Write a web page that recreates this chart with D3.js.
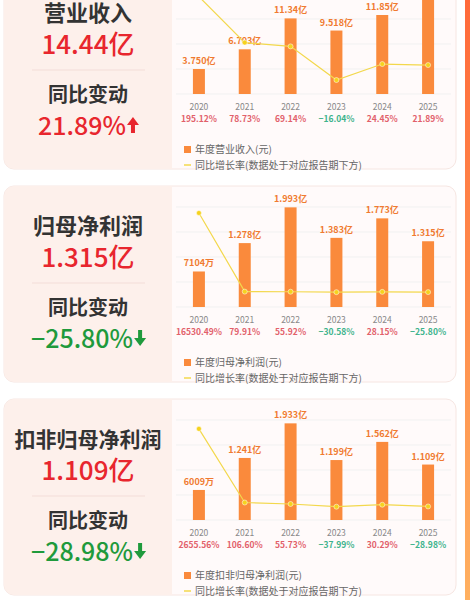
<!DOCTYPE html>
<html><head><meta charset="utf-8">
<script src="https://cdn.jsdelivr.net/npm/d3@7"></script>
<style>body{margin:0;background:#fff;font-family:"Noto Sans CJK SC",sans-serif}</style>
</head><body><div id="chart"></div>
<script>
// Chart data
const years = ['2020', '2021', '2022', '2023', '2024', '2025'];
const titles = ['营业收入', '归母净利润', '扣非归母净利润'];
const latestValues = ['14.44亿', '1.315亿', '1.109亿'];
const latestChanges = ['21.89%', '-25.80%', '-28.98%'];
const legendNames = ['年度营业收入(元)', '年度归母净利润(元)', '年度扣非归母净利润(元)'];
const revenue = [3.750, 6.703, 11.34, 9.518, 11.85, 14.44];
const revenueLabels = ['3.750亿', '6.703亿', '11.34亿', '9.518亿', '11.85亿', '14.44亿'];
const revenueRates = [195.12, 78.73, 69.14, -16.04, 24.45, 21.89];
const netProfit = [0.7104, 1.278, 1.993, 1.383, 1.773, 1.315];
const netProfitLabels = ['7104万', '1.278亿', '1.993亿', '1.383亿', '1.773亿', '1.315亿'];
const netProfitRates = [16530.49, 79.91, 55.92, -30.58, 28.15, -25.80];
const deductedProfit = [0.6009, 1.241, 1.933, 1.199, 1.562, 1.109];
const deductedProfitLabels = ['6009万', '1.241亿', '1.933亿', '1.199亿', '1.562亿', '1.109亿'];
const deductedProfitRates = [2655.56, 106.60, 55.73, -37.99, 30.29, -28.98];

const width = 470, height = 600;
const red = '#e8262e', green = '#1f9a3c', orange = '#fa8a3c';

const svg = d3.select('#chart').append('svg')
    .attr('width', width).attr('height', height);

// Orange strip on the right edge
const grad = svg.append('defs').append('linearGradient')
    .attr('id', 'strip').attr('x1', 0).attr('y1', 0).attr('x2', 0).attr('y2', 1);
grad.append('stop').attr('offset', 0).attr('stop-color', '#ff6a3a');
grad.append('stop').attr('offset', 1).attr('stop-color', '#ffb060');
svg.append('rect').attr('x', 465).attr('y', 0).attr('width', 5).attr('height', height)
    .attr('fill', 'url(#strip)');

const panels = [
    {top: -27, values: revenue, labels: revenueLabels, rates: revenueRates, vmax: 15, rateZero: 20.3, rateScale: 0.395},
    {top: 186, values: netProfit, labels: netProfitLabels, rates: netProfitRates, vmax: 2, rateZero: 15, rateScale: 0.00478},
    {top: 399, values: deductedProfit, labels: deductedProfitLabels, rates: deductedProfitRates, vmax: 2, rateZero: 14.4, rateScale: 0.0289}
];

panels.forEach((p, i) => drawPanel(p, i));

function drawPanel(p, i) {
    const g = svg.append('g').attr('transform', `translate(0,${p.top})`);
    const base = 121;   // baseline inside the card
    const cardH = 196;

    // Card
    g.append('rect').attr('x', 4).attr('y', 0).attr('width', 452).attr('height', cardH)
        .attr('rx', 10).attr('fill', '#fffafa').attr('stroke', '#f6e6e2');
    g.append('path')
        .attr('d', `M172,0 H14 A10,10 0 0 0 4,10 V${cardH - 10} A10,10 0 0 0 14,${cardH} H172 Z`)
        .attr('fill', '#fdf0eb');

    // Left texts
    const cx = 88;
    g.append('text').attr('x', cx).attr('y', 48).attr('text-anchor', 'middle')
        .attr('font-size', titles[i].length > 5 ? 21 : 22).attr('font-weight', 'bold').attr('fill', '#333')
        .text(titles[i]);
    g.append('text').attr('x', cx).attr('y', 81).attr('text-anchor', 'middle')
        .attr('font-size', 26).attr('font-weight', 500).attr('fill', red).text(latestValues[i]);
    g.append('line').attr('x1', 32).attr('x2', 145).attr('y1', 97).attr('y2', 97)
        .attr('stroke', '#f3ddd8');
    g.append('text').attr('x', cx).attr('y', 129).attr('text-anchor', 'middle')
        .attr('font-size', 20).attr('font-weight', 'bold').attr('fill', '#333').text('同比变动');
    const up = !latestChanges[i].startsWith('-');
    const chg = g.append('text').attr('x', cx - 6).attr('y', 162).attr('text-anchor', 'middle')
        .attr('font-size', 25).attr('font-weight', 500).attr('fill', up ? red : green)
        .text(latestChanges[i].replace('-', '−'));
    const bb = chg.node().getBBox();
    const ax = bb.x + bb.width + 7, ay = 153;
    g.append('path')
        .attr('d', up
            ? `M${ax},${ay - 9} L${ax + 6},${ay - 1} H${ax + 2} V${ay + 7} H${ax - 2} V${ay - 1} H${ax - 6} Z`
            : `M${ax},${ay + 7} L${ax + 6},${ay - 1} H${ax + 2} V${ay - 9} H${ax - 2} V${ay - 1} H${ax - 6} Z`)
        .attr('fill', up ? red : green);

    // Chart area
    const chart = g.append('g');
    chart.append('clipPath').attr('id', 'clip' + i).append('rect')
        .attr('x', 172).attr('y', 0).attr('width', 284).attr('height', cardH);
    const plot = chart.append('g').attr('clip-path', `url(#clip${i})`);

    const x = d3.scaleBand().domain(years).range([176, 451]);
    const y = d3.scaleLinear().domain([0, p.vmax]).range([base, base - 100]);
    const yr = d3.scaleLinear().domain([0, 1000]).range([base - p.rateZero, base - p.rateZero - 1000 * p.rateScale]);

    // Gridlines
    [0, 25, 50, 75, 100].forEach(d => {
        plot.append('line').attr('x1', 176).attr('x2', 451)
            .attr('y1', base - d).attr('y2', base - d)
            .attr('stroke', '#f1f1f1');
    });

    plot.selectAll('.bar').data(p.values).enter().append('rect')
        .attr('x', (d, k) => x(years[k]) + x.bandwidth() / 2 - 6)
        .attr('y', d => y(d)).attr('width', 12).attr('height', d => base - y(d))
        .attr('fill', orange);
    plot.selectAll('.blab').data(p.values).enter().append('text')
        .attr('x', (d, k) => x(years[k]) + x.bandwidth() / 2).attr('y', d => y(d) - 5)
        .attr('text-anchor', 'middle').attr('font-size', 9).attr('font-weight', 'bold')
        .attr('fill', '#f07a30').text((d, k) => p.labels[k]);

    const line = d3.line().x((d, k) => x(years[k]) + x.bandwidth() / 2).y(d => yr(d));
    plot.append('path').datum(p.rates).attr('d', line)
        .attr('fill', 'none').attr('stroke', '#f3d84c').attr('stroke-width', 1.2);
    plot.selectAll('.dot').data(p.rates).enter().append('circle')
        .attr('cx', (d, k) => x(years[k]) + x.bandwidth() / 2).attr('cy', d => yr(d))
        .attr('r', 2.5).attr('fill', '#f6d21e').attr('stroke', '#fff').attr('stroke-width', 0.5);

    // Axis labels
    years.forEach((yv, k) => {
        const cxk = x(yv) + x.bandwidth() / 2;
        chart.append('text').attr('x', cxk).attr('y', base + 16).attr('text-anchor', 'middle')
            .attr('font-size', 8.5).attr('fill', '#888').text(yv);
        const r = p.rates[k];
        chart.append('text').attr('x', cxk).attr('y', base + 28).attr('text-anchor', 'middle')
            .attr('font-size', 8.5).attr('font-weight', 'bold')
            .attr('fill', r >= 0 ? '#e2606a' : '#3db38c')
            .text((r >= 0 ? '' : '−') + Math.abs(r).toFixed(2) + '%');
    });

    // Legend
    chart.append('rect').attr('x', 184).attr('y', base + 52).attr('width', 7).attr('height', 7)
        .attr('fill', orange);
    chart.append('text').attr('x', 195).attr('y', base + 59).attr('font-size', 10).attr('fill', '#666')
        .text(legendNames[i]);
    chart.append('line').attr('x1', 184).attr('x2', 191).attr('y1', base + 71).attr('y2', base + 71)
        .attr('stroke', '#f3d84c').attr('stroke-width', 1.5);
    chart.append('text').attr('x', 195).attr('y', base + 75).attr('font-size', 10).attr('fill', '#666')
        .text('同比增长率(数据处于对应报告期下方)');
}
</script>
</body></html>
